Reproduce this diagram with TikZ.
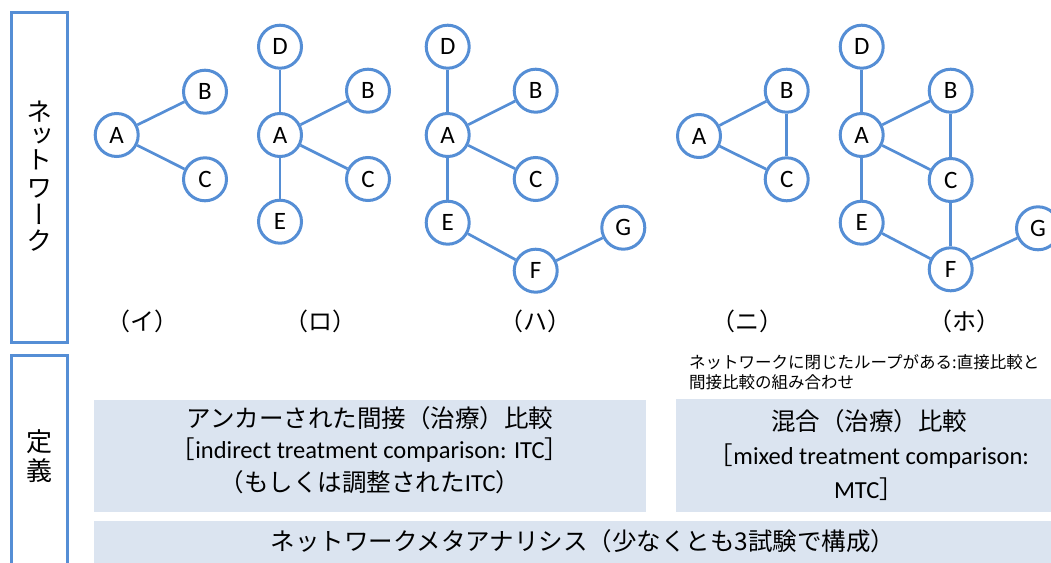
\documentclass[tikz,border=0pt]{standalone}
\usepackage{fontspec}
\setmainfont{Carlito}
\newfontfamily\jp{Noto Sans CJK JP}
\newfontfamily\jpv[RawFeature=+vert]{Noto Sans CJK JP}
\definecolor{nodeblue}{RGB}{85,142,213}
\definecolor{boxfill}{RGB}{219,228,240}
\tikzset{
  tnode/.style={circle,draw=nodeblue,line width=3pt,fill=white,minimum size=43pt,inner sep=0pt,font=\fontsize{25}{25}\selectfont},
  tedge/.style={draw=nodeblue,line width=2.7pt},
  frame/.style={draw=nodeblue,line width=2.5pt},
  defbox/.style={fill=boxfill,draw=none},
  jpbig/.style={font=\jp\fontsize{24.5}{30}\selectfont,inner sep=0pt},
  latbig/.style={font=\fontsize{24.5}{30}\selectfont,inner sep=0pt},
  vtext/.style={font=\jpv\fontsize{26}{26}\selectfont,inner sep=0pt,align=center},
  caption/.style={font=\jp\fontsize{24}{24}\selectfont,inner sep=0pt},
  note/.style={font=\jp\fontsize{16.5}{20}\selectfont,inner sep=0pt,anchor=west}
}
\begin{document}
\begin{tikzpicture}[x=1pt,y=-1pt]
\clip (0,0) rectangle (1051,562);
% left frames
\draw[frame] (11.5,12.5) rectangle (67.5,342.5);
\draw[frame] (11.5,355.5) rectangle (67.5,580);
\node[vtext,anchor=north] (net) at (39.5,101) {ネ\\[-2pt]ッ\\[-2pt]ト\\[2pt]ワ\\[1pt]ー\\ク};
\node[vtext,anchor=north] (def) at (39.5,429) {定\\[3pt]義};
% definition boxes
\fill[defbox] (94,400) rectangle (646,512);
\fill[defbox] (676,399) rectangle (1065,512);
\fill[defbox] (94,521) rectangle (1072,580);
\node[jpbig] (itc1) at (370,418) {アンカーされた間接（治療）比較};
\node[latbig] (itc2) at (370,450) {{\jp ［}indirect treatment comparison: ITC{\jp ］}};
\node[latbig] (itc3) at (370,482) {{\jp （もしくは調整された}ITC{\jp ）}};
\node[jpbig] (mtc1) at (869,421) {混合（治療）比較};
\node[latbig] (mtc2) at (869,456) {{\jp ［}mixed treatment comparison:};
\node[latbig] (mtc3) at (869,489) {MTC{\jp ］}};
\node[jpbig] (nma) at (583,541) {ネットワークメタアナリシス（少なくとも3試験で構成）};
\node[note] (n1) at (689,362) {ネットワークに閉じたループがある:直接比較と};
\node[note] (n2) at (689,382) {間接比較の組み合わせ};
% (i)
\node[tnode] (A1) at (116.7,135) {A};
\node[tnode] (B1) at (205,91.7) {B};
\node[tnode] (C1) at (205,179.3) {C};
\draw[tedge] (A1) -- (B1);
\draw[tedge] (A1) -- (C1);
% (ro)
\node[tnode] (D2) at (280,46.7) {D};
\node[tnode] (A2) at (280,135) {A};
\node[tnode] (B2) at (368,90.7) {B};
\node[tnode] (C2) at (368,179) {C};
\node[tnode] (E2) at (280,221.7) {E};
\draw[tedge] (D2) -- (A2);
\draw[tedge] (A2) -- (B2);
\draw[tedge] (A2) -- (C2);
\draw[tedge] (A2) -- (E2);
% (ha)
\node[tnode] (D3) at (447.7,46.7) {D};
\node[tnode] (A3) at (447.7,135) {A};
\node[tnode] (B3) at (535.7,90.7) {B};
\node[tnode] (C3) at (535.7,179) {C};
\node[tnode] (E3) at (447.7,222.7) {E};
\node[tnode] (F3) at (535.7,270.7) {F};
\node[tnode] (G3) at (623.3,227.7) {G};
\draw[tedge] (D3) -- (A3);
\draw[tedge] (A3) -- (B3);
\draw[tedge] (A3) -- (C3);
\draw[tedge] (A3) -- (E3);
\draw[tedge] (E3) -- (F3);
\draw[tedge] (F3) -- (G3);
% (ni)
\node[tnode] (A4) at (699,136) {A};
\node[tnode] (B4) at (786.7,90.7) {B};
\node[tnode] (C4) at (786.7,179.3) {C};
\draw[tedge] (A4) -- (B4);
\draw[tedge] (A4) -- (C4);
\draw[tedge] (B4) -- (C4);
% (ho)
\node[tnode] (D5) at (861.7,46.7) {D};
\node[tnode] (A5) at (861.7,135) {A};
\node[tnode] (B5) at (950.7,90.7) {B};
\node[tnode] (C5) at (950.7,180) {C};
\node[tnode] (E5) at (861.7,222.7) {E};
\node[tnode] (F5) at (950.7,269.3) {F};
\node[tnode] (G5) at (1038,228.3) {G};
\draw[tedge] (D5) -- (A5);
\draw[tedge] (A5) -- (B5);
\draw[tedge] (A5) -- (C5);
\draw[tedge] (B5) -- (C5);
\draw[tedge] (A5) -- (E5);
\draw[tedge] (C5) -- (F5);
\draw[tedge] (E5) -- (F5);
\draw[tedge] (F5) -- (G5);
% captions
\node[caption] (L1) at (142,321) {（イ）};
\node[caption] (L2) at (320,321) {（ロ）};
\node[caption] (L3) at (535.7,321) {（ハ）};
\node[caption] (L4) at (747,321) {（ニ）};
\node[caption] (L5) at (964,321) {（ホ）};
\end{tikzpicture}
\end{document}
